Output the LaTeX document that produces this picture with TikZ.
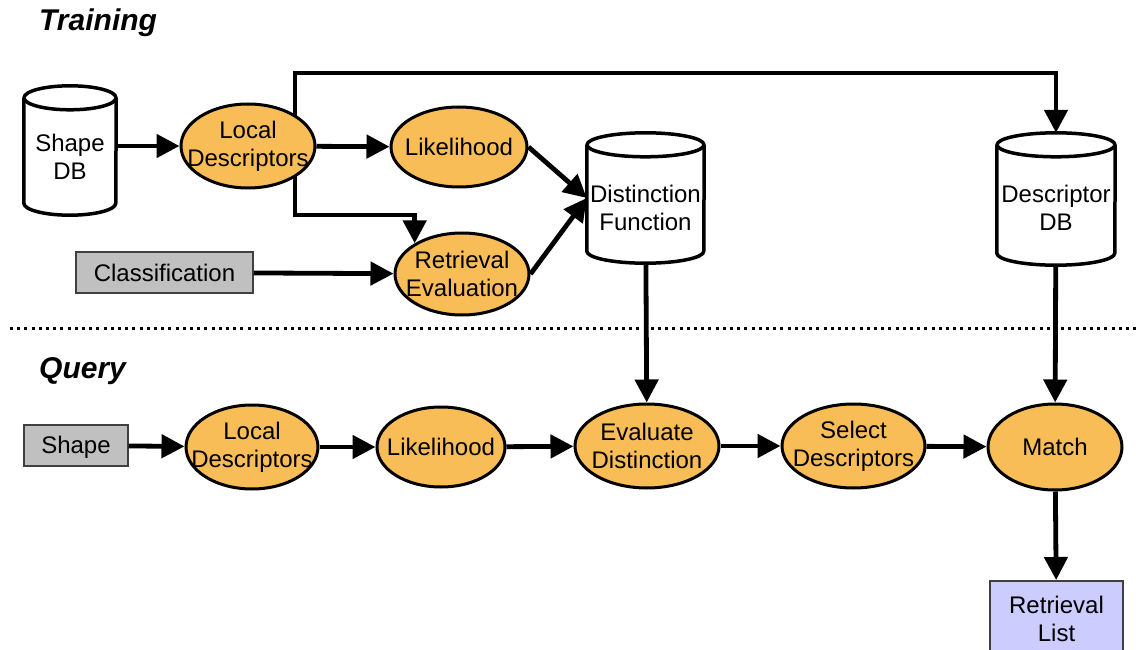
\documentclass[tikz,border=0pt]{standalone}
\usepackage{fontspec}
\setmainfont{Liberation Sans}
\usetikzlibrary{arrows.meta,calc,shapes.geometric}
\pgfdeclarelayer{background}
\pgfsetlayers{background,main}
\definecolor{procfill}{RGB}{249,189,88}
\definecolor{boxgray}{RGB}{192,192,192}
\definecolor{listfill}{RGB}{204,204,255}
\definecolor{boxedge}{RGB}{64,64,64}
\newcommand\nb[1]{\makebox[0pt]{#1}}
% #1 node name, #2 x radius (pt)
\newcommand\dbcyl[2]{%
  \fill[white] ([yshift=-12pt]#1.north west) -- ([yshift=12pt]#1.south west)
     arc[start angle=180,end angle=360,x radius=#2pt,y radius=12pt]
     -- ([yshift=-12pt]#1.north east) -- cycle;
  \draw[cyl] ([yshift=-12pt]#1.north west) -- ([yshift=12pt]#1.south west)
     arc[start angle=180,end angle=360,x radius=#2pt,y radius=12pt]
     -- ([yshift=-12pt]#1.north east);
  \draw[cyl,fill=white] ([yshift=-12pt]#1.north) ellipse[x radius=#2pt,y radius=12pt];
}
\begin{document}
\begin{tikzpicture}[x=1pt,y=-1pt,
  every node/.style={font=\fontsize{24}{28}\selectfont, align=center},
  proc/.style={ellipse, draw=black, line width=3pt, fill=procfill, inner sep=0pt},
  gbox/.style={rectangle, draw=boxedge, line width=1.5pt, fill=boxgray, inner sep=0pt},
  lbox/.style={rectangle, draw=boxedge, line width=1.5pt, fill=listfill, inner sep=0pt},
  dbbox/.style={rectangle, inner sep=0pt},
  cyl/.style={draw=black, line width=3.5pt, line join=round},
  conn/.style={line width=4.8pt, draw=black},
  arr/.style={conn, -{Triangle[length=23pt,width=23pt]}},
  title/.style={font=\fontsize{30}{34}\selectfont\bfseries\itshape, anchor=west, inner sep=0pt},
  sep/.style={line width=3pt, dash pattern=on 3pt off 4.2pt}
]
\useasboundingbox (0,0) rectangle (1136,650);

% titles
\node[title] (trainT) at (39,23) {Training};
\node[title] (queryT) at (39,371) {Query};

% ---------- training ----------
\node[dbbox, minimum width=92, minimum height=129] (shapedb) at (70,150.5) {};
\dbcyl{shapedb}{46}
\node (shapedbT) at (70,157) {Shape\\DB};

\node[proc, minimum width=134, minimum height=84] (lt) at (248,146) {\nb{Local}\\\nb{Descriptors}};
\node[proc, minimum width=136, minimum height=80] (likT) at (459,147) {\nb{Likelihood}};
\node[proc, minimum width=134, minimum height=82] (retT) at (462,274) {\nb{Retrieval}\\\nb{Evaluation}};
\node[gbox, minimum width=177, minimum height=41] (cls) at (164.5,272.5) {Classification};

\node[dbbox, minimum width=117, minimum height=130] (distF) at (645.5,198) {};
\dbcyl{distF}{58.5}
\node (distFT) at (645.5,208) {Distinction\\Function};

\node[dbbox, minimum width=118, minimum height=132] (descdb) at (1056,199) {};
\dbcyl{descdb}{59}
\node (descdbT) at (1056,208) {Descriptor\\DB};

\coordinate (tapTop) at (295,73);
\coordinate (tapBot) at (295,215);

% separator
\coordinate (sepL) at (10,328);
\coordinate (sepR) at (1136,328);
\draw[sep] (sepL) -- (sepR);

% ---------- query ----------
\node[gbox, minimum width=104, minimum height=41, text depth=2pt] (shapeQ) at (76,445.5) {Shape};
\node[proc, minimum width=132, minimum height=84] (lq) at (252,447) {\nb{Local}\\\nb{Descriptors}};
\node[proc, minimum width=128, minimum height=80] (likQ) at (441,447) {\nb{Likelihood}};
\node[proc, minimum width=144, minimum height=84] (evalQ) at (647,446) {\nb{Evaluate}\\\nb{Distinction}};
\node[proc, minimum width=143, minimum height=84] (selQ) at (853.5,446) {\nb{Select}\\\nb{Descriptors}};
\node[proc, minimum width=134, minimum height=86] (matchQ) at (1055,447) {\nb{Match}};
\node[lbox, minimum width=133, minimum height=80, anchor=north] (retL) at (1056.5,580) {};
\node (retLT) at (1056.5,619) {Retrieval\\List};

% ---------- connectors ----------
\begin{pgfonlayer}{background}
  \draw[arr, line cap=rect] (tapBot) -- (tapTop) -| (descdb.north);
  \draw[arr, line cap=rect] (tapBot) -| (retT.147);
\end{pgfonlayer}
\draw[arr] (shapedb.east |- lt.west) -- (lt);
\draw[arr] (lt) -- (likT);
\draw[arr] (likT.east) -- (distF.west);
\draw[arr] (retT.east) -- (distF.west);
\draw[arr] (cls) -- (retT);
\draw[arr] (distF) -- (evalQ);
\draw[arr] (descdb) -- (matchQ);

\draw[arr] (shapeQ) -- (lq);
\draw[arr] (lq) -- (likQ);
\draw[arr] (likQ) -- (evalQ);
\draw[arr] (evalQ) -- (selQ);
\draw[arr] (selQ) -- (matchQ);
\draw[arr] (matchQ) -- (retL);
\end{tikzpicture}
\end{document}
